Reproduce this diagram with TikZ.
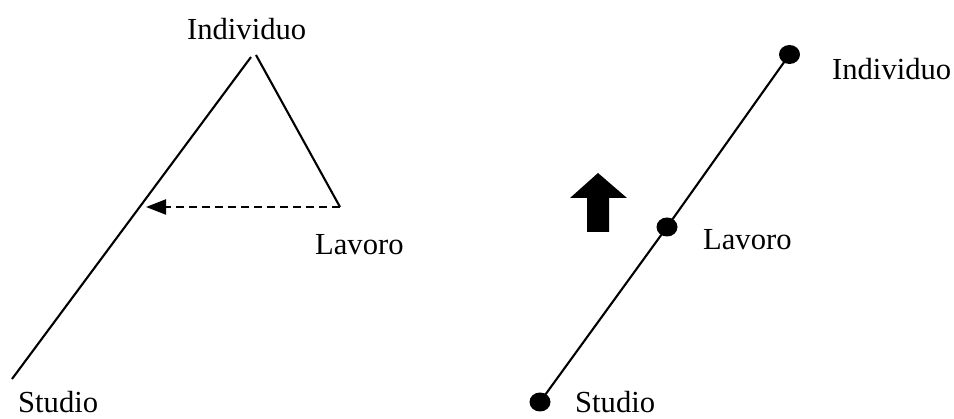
\documentclass[tikz,border=0pt]{standalone}
\usepackage{fontspec}
\setmainfont{Liberation Serif}
\usetikzlibrary{arrows.meta,shapes.geometric}
\begin{document}
\begin{tikzpicture}[x=1pt,y=-1pt,
  lbl/.style={inner sep=0pt,anchor=base west,font=\fontsize{30.6}{34}\selectfont},
  edge/.style={line width=2.1pt},
  dot/.style={ellipse,fill=black,minimum width=21pt,minimum height=19pt,inner sep=0pt}]
\useasboundingbox (0,0) rectangle (954,419);
% left triangle
\coordinate (apexL) at (251,57);
\coordinate (apexR) at (256,55);
\coordinate (foot) at (12,379);
\coordinate (corner) at (340,207);
\coordinate (hit) at (146,207);
\draw[edge] (apexL) -- (foot);
\draw[edge] (apexR) -- (corner);
\draw[edge,dash pattern=on 8pt off 5pt,-{Triangle[length=20pt,width=15pt]}] (corner) -- (hit);
\node[lbl] (indL) at (187,40) {Individuo};
\node[lbl] (lavL) at (315,255) {Lavoro};
\node[lbl] (stuL) at (18,413) {Studio};
% right line with points
\node[dot] (pS) at (540,402) {};
\node[dot] (pL) at (667,227) {};
\node[dot] (pI) at (789.5,54.5) {};
\draw[edge] (pS.center) -- (pL.center) -- (pI.center);
\node[lbl] (indR) at (832,80) {Individuo};
\node[lbl] (lavR) at (703,250) {Lavoro};
\node[lbl] (stuR) at (575,413) {Studio};
% bold up arrow
\fill (598,173) -- (627,198) -- (609,198) -- (609,232) -- (587,232) -- (587,198) -- (570,198) -- cycle;
\end{tikzpicture}
\end{document}
